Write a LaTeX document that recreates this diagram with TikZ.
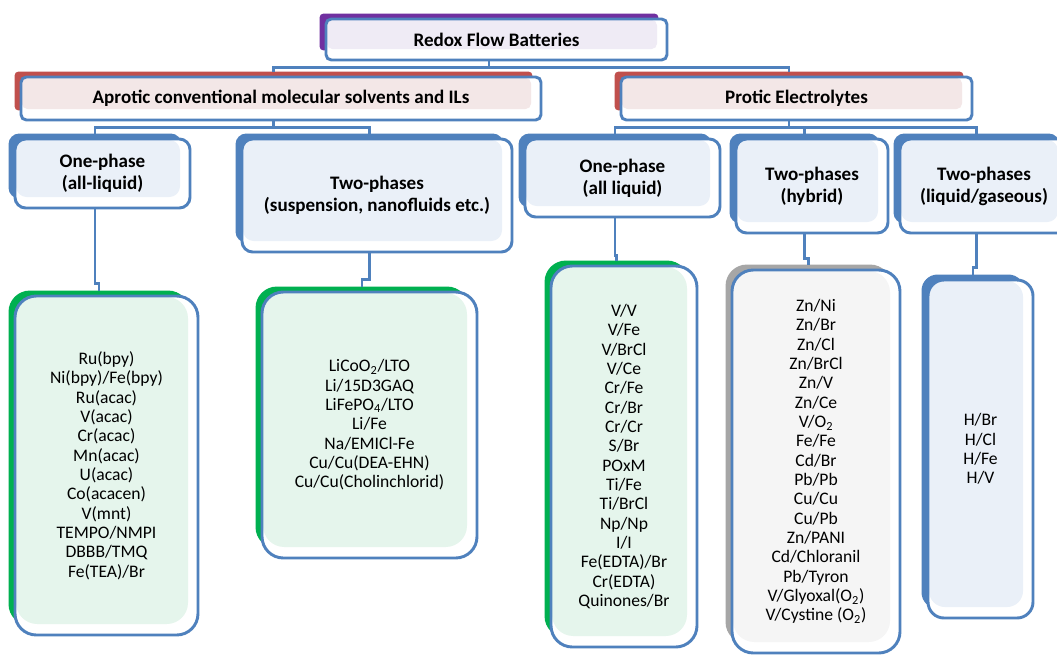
\documentclass[tikz,border=0pt]{standalone}
\usepackage{fontspec}
\setmainfont{Carlito}
\usetikzlibrary{calc,backgrounds}
\definecolor{ob}{HTML}{4F81BD}
\definecolor{pblue}{HTML}{EAF0F8}
\definecolor{rd}{HTML}{C0504D}
\definecolor{ppink}{HTML}{F3E7E7}
\definecolor{pu}{HTML}{7030A0}
\definecolor{plav}{HTML}{EFEBF5}
\definecolor{gr}{HTML}{00B050}
\definecolor{pgreen}{HTML}{E5F5EC}
\definecolor{gy}{HTML}{A6A6A6}
\definecolor{pgray}{HTML}{F5F5F5}
\newcommand\backshape[3]{\begin{pgfonlayer}{background}\fill[#2, rounded corners=#3] ($(#1.north west)+(-5,4)$) rectangle ($(#1.south east)+(-10,11)$);\end{pgfonlayer}}
\tikzset{
 bb/.style args={#1/#2/#3/#4}{minimum width={(#3-#1)*0.75pt}, minimum height={(#4-#2)*0.75pt}, at={({(#1+#3)/2},{-(#2+#4)/2})}},
 bx/.style 2 args={draw=ob, line width=2.2pt, fill=white, rounded corners=#2, inner sep=0pt, align=center,
   path picture={\fill[#1] ($(path picture bounding box.north west)+(1,-1)$) rectangle ($(path picture bounding box.south east)+(-10,11)$);}},
 hd/.style={font=\fontsize{14.3}{16.5}\selectfont\bfseries},
 ls/.style={font=\fontsize{13.2}{14.5}\selectfont},
 cn/.style={draw=ob, line width=2.2pt},
}
\begin{document}
\begin{tikzpicture}[x=0.75pt,y=0.75pt]
\useasboundingbox (0,0) rectangle (1057,-654);
\begin{pgfonlayer}{background}\fill[white] (0,0) rectangle (1057,-654);\end{pgfonlayer}
% level 1
\node[bx={plav}{4}, hd, bb=326/19/667/60] (rfb) {Redox Flow Batteries};
\backshape{rfb}{pu}{3}
% level 2
\node[bx={ppink}{4}, hd, bb=21/77/541/120] (apro) {Aprotic conventional molecular solvents and ILs};
\backshape{apro}{rd}{3}
\node[bx={ppink}{4}, hd, bb=621/77/972/120] (prot) {Protic Electrolytes};
\backshape{prot}{rd}{3}
% level 3
\node[bx={pblue}{8}, hd, bb=15/139/190/208] (op1) {One-phase\\(all-liquid)};
\backshape{op1}{ob}{8}
\node[bx={pblue}{8}, hd, bb=242/139/512/252] (tp1) {Two-phases\\(suspension, nanofluids etc.)};
\backshape{tp1}{ob}{8}
\node[bx={pblue}{8}, hd, bb=525/139/720/217] (op2) {One-phase\\(all liquid)};
\backshape{op2}{ob}{8}
\node[bx={pblue}{8}, hd, bb=736/139/888/233] (hy) {Two-phases\\(hybrid)};
\backshape{hy}{ob}{8}
\node[bx={pblue}{8}, hd, bb=900/139/1068/233] (gas) {Two-phases\\(liquid/gaseous)};
\backshape{gas}{ob}{8}
% level 4
\node[bx={pgreen}{16}, ls, bb=15/296/198/635] (b1) {Ru(bpy)\\Ni(bpy)/Fe(bpy)\\Ru(acac)\\V(acac)\\Cr(acac)\\Mn(acac)\\U(acac)\\Co(acacen)\\V(mnt)\\TEMPO/NMPI\\DBBB/TMQ\\Fe(TEA)/Br};
\backshape{b1}{gr}{16}
\node[bx={pgreen}{16}, ls, bb=262/292/477/558] (b2) {LiCoO\textsubscript{2}/LTO\\Li/15D3GAQ\\LiFePO\textsubscript{4}/LTO\\Li/Fe\\Na/EMICl-Fe\\Cu/Cu(DEA-EHN)\\Cu/Cu(Cholinchlorid)};
\backshape{b2}{gr}{16}
\node[bx={pgreen}{16}, ls, bb=551/266/697/647] (b3) {V/V\\V/Fe\\V/BrCl\\V/Ce\\Cr/Fe\\Cr/Br\\Cr/Cr\\S/Br\\POxM\\Ti/Fe\\Ti/BrCl\\Np/Np\\I/I\\Fe(EDTA)/Br\\Cr(EDTA)\\Quinones/Br};
\backshape{b3}{gr}{16}
\node[bx={pgray}{16}, ls, bb=732/270/900/653] (b4) {Zn/Ni\\Zn/Br\\Zn/Cl\\Zn/BrCl\\Zn/V\\Zn/Ce\\V/O\textsubscript{2}\\Fe/Fe\\Cd/Br\\Pb/Pb\\Cu/Cu\\Cu/Pb\\Zn/PANI\\Cd/Chloranil\\Pb/Tyron\\V/Glyoxal(O\textsubscript{2})\\V/Cystine (O\textsubscript{2})};
\backshape{b4}{gy}{16}
\node[bx={pblue}{12}, ls, bb=928/280/1033/618] (b5) {H/Br\\H/Cl\\H/Fe\\H/V};
\backshape{b5}{ob}{12}
% anchor points (centres of the offset back shapes)
\foreach \n in {rfb,apro,prot,op1,tp1,op2,hy,gas,b1,b2,b3,b4,b5}{
  \coordinate (\n-t) at ($(\n.north)+(-7.5,4)$);
  \coordinate (\n-b) at ($(\n.south)+(-7.5,0)$);
}
\begin{pgfonlayer}{background}
\coordinate (j1) at ($(rfb-b)+(0,-6)$);
\draw[cn] (rfb-b) -- (j1);
\draw[cn] (apro-t) |- (j1) -| (prot-t);
\coordinate (j2) at ($(apro-b)+(0,-6)$);
\draw[cn] (apro-b) -- (j2);
\draw[cn] (op1-t) |- (j2) -| (tp1-t);
\coordinate (j3) at ($(prot-b)+(0,-6)$);
\draw[cn] (prot-b) -- (j3);
\draw[cn] (op2-t) |- (j3) -| (gas-t);
\draw[cn] (hy-t) -- (hy-t |- j3);
\draw[cn] (op1-b) |- ($(b1-t)+(0,7)$) -- (b1-t);
\draw[cn] (tp1-b) |- ($(b2-t)+(0,7)$) -- (b2-t);
\draw[cn] (op2-b) |- ($(b3-t)+(0,5)$) -- (b3-t);
\draw[cn] (hy-b) |- ($(b4-t)+(0,6)$) -- (b4-t);
\draw[cn] (gas-b) |- ($(b5-t)+(0,7)$) -- (b5-t);
\end{pgfonlayer}
\end{tikzpicture}
\end{document}
